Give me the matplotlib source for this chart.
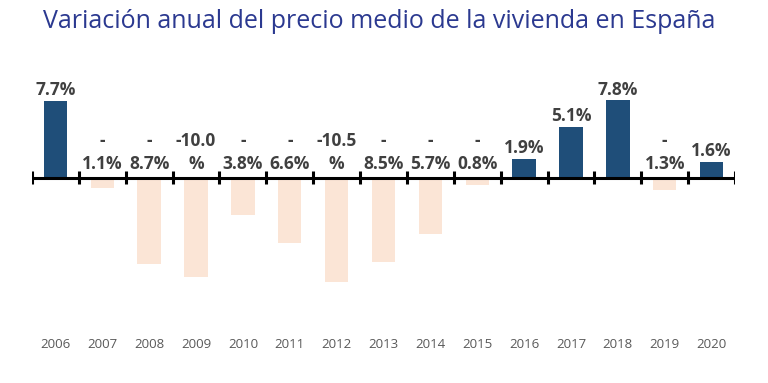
import matplotlib
matplotlib.use("Agg")
import matplotlib.pyplot as plt
import numpy as np

years = ["2006", "2007", "2008", "2009", "2010", "2011", "2012", "2013",
         "2014", "2015", "2016", "2017", "2018", "2019", "2020"]
values = [7.7, -1.1, -8.7, -10.0, -3.8, -6.6, -10.5, -8.5, -5.7, -0.8,
          1.9, 5.1, 7.8, -1.3, 1.6]
title = "Variación anual del precio medio de la vivienda en España"

POS_COLOR = "#1F4E79"
NEG_COLOR = "#FBE5D6"
LABEL_COLOR = "#404040"

plt.rcParams['font.family'] = ['Open Sans', 'DejaVu Sans']

fig = plt.figure(figsize=(7.68, 3.83), dpi=100)
W, H = 768, 383
# axes: x from 32 to 735 px, y from 60 to 335 px (top-down)
ax = fig.add_axes([32 / W, 1 - 335 / H, (735 - 32) / W, (335 - 60) / H])

scale = 9.95  # px per unit
zero_px = 177.5
ax.set_xlim(-0.5, len(years) - 0.5)
ax.set_ylim(-(335 - zero_px) / scale, (zero_px - 60) / scale)

x = np.arange(len(years))
colors = [POS_COLOR if v >= 0 else NEG_COLOR for v in values]
ax.bar(x, values, width=0.5, color=colors, zorder=2)

ax.axhline(0, color="black", lw=2.2, zorder=3)
ax.vlines(np.arange(len(years) + 1) - 0.5, -0.65, 0.65, color="black", lw=2.2, zorder=3)


def fmt(v):
    if v >= 0:
        return f"{v:.1f}%"
    if v <= -10:
        return f"{v:.1f}\n%"
    return f"-\n{abs(v):.1f}%"


for xi, v in zip(x, values):
    if v >= 0:
        ax.annotate(fmt(v), (xi, v), xytext=(0, 1), textcoords="offset points",
                    ha="center", va="bottom", fontsize=12.5, fontweight="bold",
                    color=LABEL_COLOR)
    else:
        ax.annotate(fmt(v), (xi, 0), xytext=(0, 3.5), textcoords="offset points",
                    ha="center", va="bottom", fontsize=12.5, fontweight="bold",
                    color=LABEL_COLOR, linespacing=1.3, multialignment="center")

ax.set_xticks(x)
ax.set_xticklabels(years, fontsize=9.5, color="#595959")
ax.tick_params(axis="x", length=0, pad=2.5)
ax.set_yticks([])
for s in ax.spines.values():
    s.set_visible(False)

fig.text(379 / W, 1 - 22 / H, title, ha="center", va="center",
         fontsize=18, color="#2B3990")

fig.savefig("out.png", dpi=100, facecolor="white")
